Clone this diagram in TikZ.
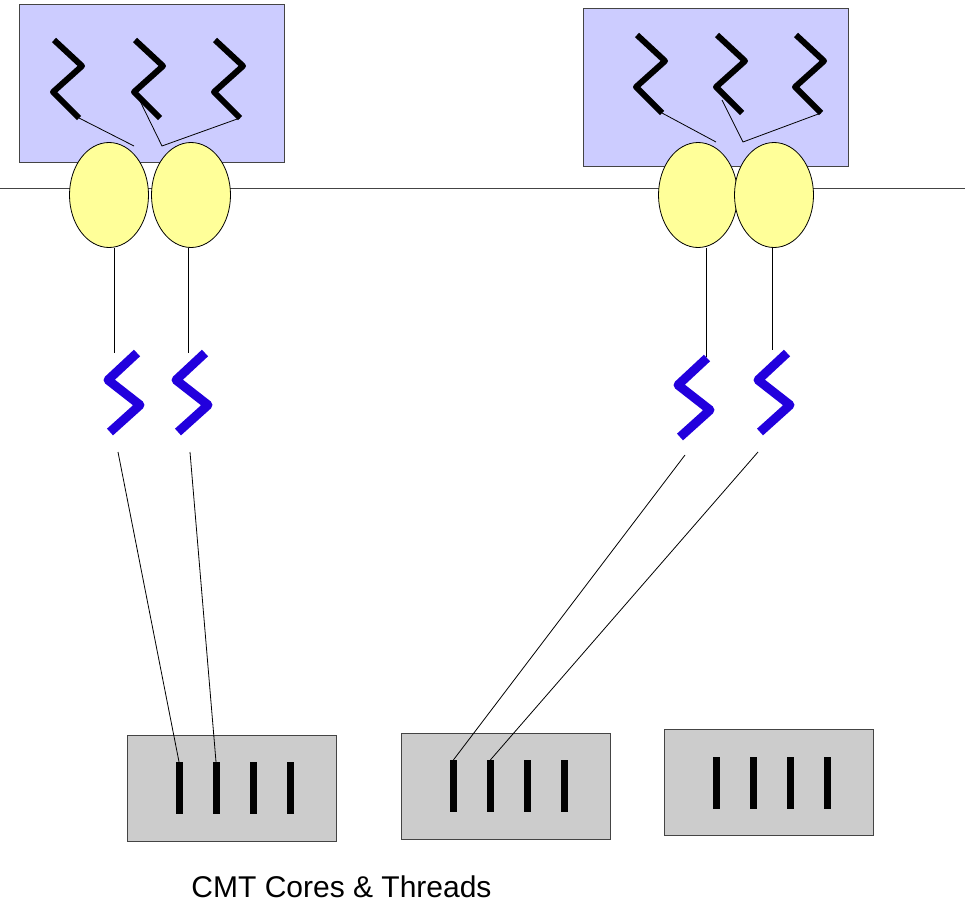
\documentclass[tikz,border=0pt]{standalone}
\usepackage{fontspec}
\setmainfont{Liberation Sans}
\usetikzlibrary{shapes.geometric}
\definecolor{procfill}{HTML}{CCCCFF}
\definecolor{lwpfill}{HTML}{FFFF99}
\definecolor{corefill}{HTML}{CCCCCC}
\definecolor{kthread}{HTML}{2200DD}
\definecolor{rimgray}{HTML}{444444}
\tikzset{
  procbox/.style={draw=rimgray, fill=procfill, line width=1pt, minimum width=265pt, minimum height=158pt, inner sep=0pt},
  corebox/.style={draw=rimgray, fill=corefill, line width=1pt, minimum width=209pt, minimum height=106pt, inner sep=0pt},
  strand/.style={fill=black, draw=none, minimum width=7pt, minimum height=52pt, inner sep=0pt},
  lwp/.style={ellipse, draw=black, fill=lwpfill, line width=0.8pt, minimum width=79pt, minimum height=105pt, inner sep=0pt},
  uthread/.style={draw=black, line width=6pt, line join=round, line cap=butt},
  kthr/.style={draw=kthread, line width=9pt, line join=round, line cap=butt},
  link/.style={draw=black, line width=0.8pt},
  bus/.style={draw=rimgray, line width=1pt},
}
\begin{document}
\begin{tikzpicture}[x=1pt, y=-1pt]
\useasboundingbox (0,0) rectangle (965,904);

% process boxes
\node[procbox] (pL) at (151.5,83.5) {};
\node[procbox] (pR) at (715.5,88) {};

% user threads inside the process boxes
\foreach \x/\y/\n in {54/40/L1, 135/40/L2, 215/40/L3, 637/35/R1, 717/35/R2, 796/35/R3}{
  \draw[uthread] (\x,\y) -- ++(28,26) -- ++(-29,26) coordinate (v\n) -- ++(26,26) coordinate (e\n);
}

% attachment points of the user threads
\coordinate (aL1) at (134,146);
\coordinate (sL2) at (140,101);
\coordinate (aL2) at (162,146);
\coordinate (aR1) at (716,142);
\coordinate (sR2) at (722,100);
\coordinate (aR2) at (743,142);
\draw[link] (eL1) -- (aL1);
\draw[link] (sL2) -- (aL2) -- (eL3);
\draw[link] (eR1) -- (aR1);
\draw[link] (sR2) -- (aR2) -- (eR3);

% kernel boundary
\coordinate (busW) at (0,188);
\coordinate (busE) at (965,188);
\draw[bus] (busW) -- (busE);

% lightweight processes
\node[lwp] (lwpL1) at (109,195) {};
\node[lwp] (lwpL2) at (191,195) {};
\node[lwp] (lwpR1) at (698,195) {};
\node[lwp] (lwpR2) at (774,195) {};

% kernel threads
\foreach \x/\y/\n in {137/353/L1, 205/353/L2, 707/358/R1, 787/353/R2}{
  \draw[kthr] (\x,\y) -- ++(-29,27) -- ++(32,25) -- ++(-30,27);
}

% free ends of the connectors near the kernel threads
\coordinate (kL1) at (114,353);
\coordinate (kL2) at (188,353);
\coordinate (kR1) at (706,357);
\coordinate (kR2) at (772,350);
\coordinate (dL1) at (118,452);
\coordinate (dL2) at (190,452);
\coordinate (dR1) at (685,455);
\coordinate (dR2) at (758,452);

\draw[link] (kL1 |- lwpL1.south) -- (kL1);
\draw[link] (kL2 |- lwpL2.south) -- (kL2);
\draw[link] (kR1 |- lwpR1.south) -- (kR1);
\draw[link] (kR2 |- lwpR2.south) -- (kR2);

% CMT cores with their hardware threads
\node[corebox] (c1) at (231.5,788) {};
\node[corebox] (c2) at (506,786) {};
\node[corebox] (c3) at (768.5,782.5) {};
\foreach \c in {1,2,3}{
  \foreach \dx [count=\i] in {-52.5,-15.5,21.5,58.5}{
    \node[strand] (h\c\i) at ([xshift=\dx pt]c\c.center) {};
  }
}

\draw[link] (dL1) -- (h11.north);
\draw[link] (dL2) -- (h12.north);
\draw[link] (dR1) -- (h21.north);
\draw[link] (dR2) -- (h22.north);

% caption
\node[anchor=base, inner sep=0pt, font=\fontsize{30}{36}\selectfont] (cap) at (341.5,897.5) {CMT Cores \& Threads};
\end{tikzpicture}
\end{document}
